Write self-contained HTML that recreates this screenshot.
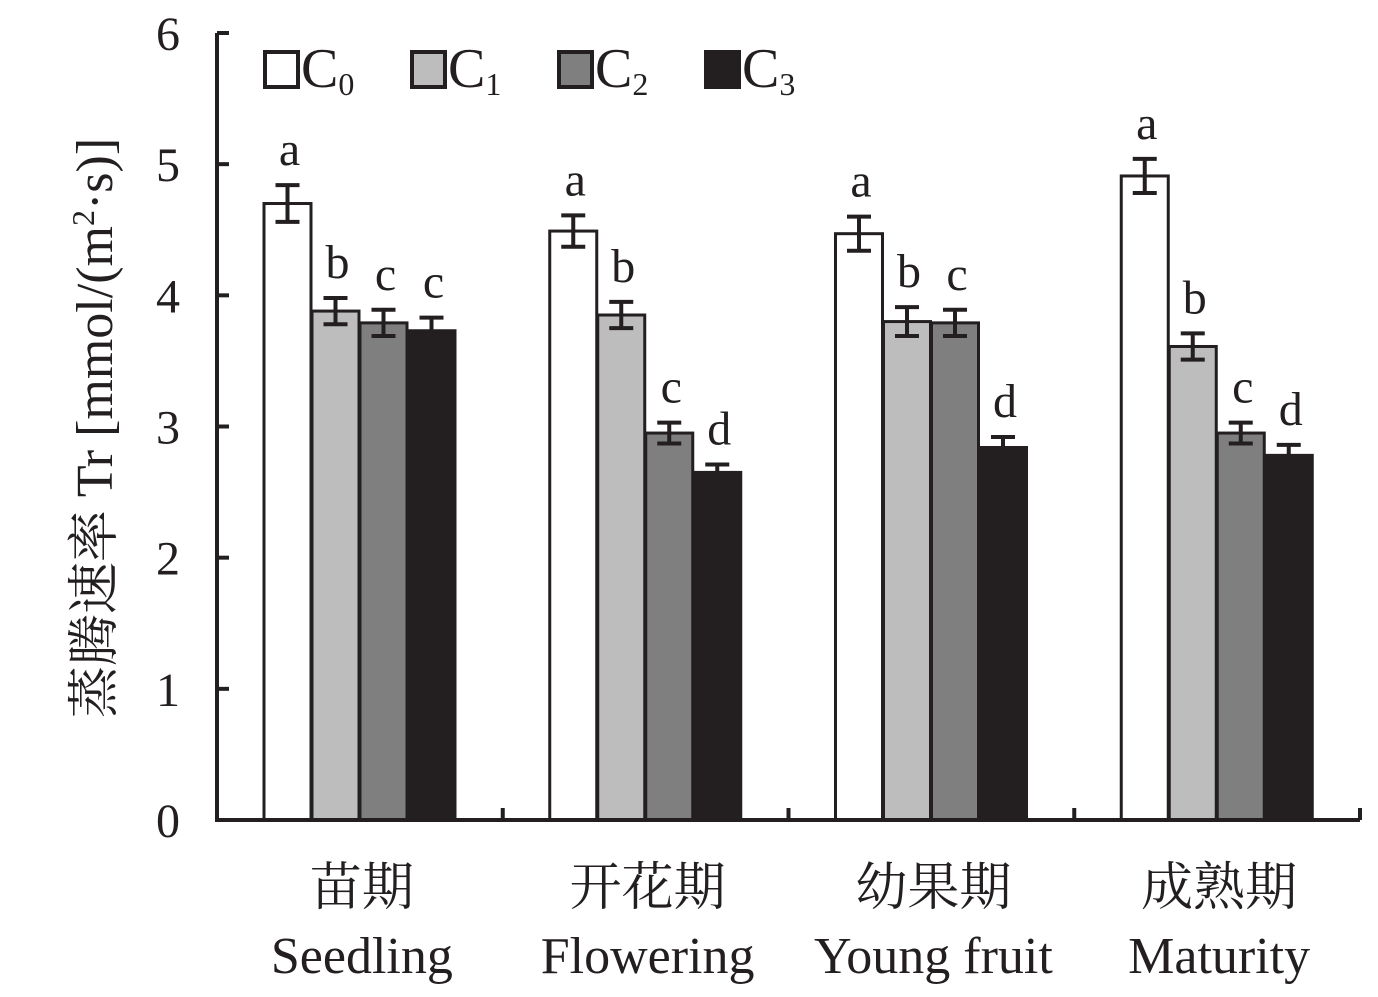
<!DOCTYPE html>
<html><head><meta charset="utf-8"><style>
body{margin:0;background:#fff}
svg text{font-family:"Liberation Serif","Noto Serif CJK SC",serif;fill:#231f20}
</style></head><body>
<svg id="chart" width="1378" height="992" xmlns="http://www.w3.org/2000/svg">
<g id="bars"></g>
<g id="axes"></g>
<g id="legend"></g>
<text transform="translate(112,428) rotate(-90)" text-anchor="middle" font-size="52">蒸腾速率 Tr [mmol/(m<tspan font-size="32" dy="-18">2</tspan><tspan dy="18">·s)]</tspan></text>
</svg>
<script>
const categoriesCN=["苗期","开花期","幼果期","成熟期"];
const categoriesEN=["Seedling","Flowering","Young fruit","Maturity"];
const seriesNames=["0","1","2","3"];
const C0=[4.70,4.49,4.47,4.91];
const C1=[3.88,3.85,3.80,3.61];
const C2=[3.79,2.95,3.79,2.95];
const C3=[3.73,2.65,2.84,2.78];
const E0=[0.14,0.12,0.13,0.13];
const E1=[0.10,0.10,0.11,0.10];
const E2=[0.10,0.08,0.10,0.08];
const E3=[0.10,0.06,0.08,0.08];
const L0=["a","a","a","a"];
const L1=["b","b","b","b"];
const L2=["c","c","c","c"];
const L3=["c","d","d","d"];
const yTicks=[0,1,2,3,4,5,6];
const NS="http://www.w3.org/2000/svg";
const X0=217,X1=1360,Y0=820,YT=33;
const y=v=>Y0-(v/6)*(Y0-YT);
const gw=(X1-X0)/4;
const bw=47;
const fills=["#ffffff","#bdbdbd","#7f7f7f","#231f20"];
const vals=[C0,C1,C2,C3],errs=[E0,E1,E2,E3],lets=[L0,L1,L2,L3];
function mk(t,a,p){const e=document.createElementNS(NS,t);for(const k in a)e.setAttribute(k,a[k]);p.appendChild(e);return e;}
const bars=document.getElementById('bars'),axes=document.getElementById('axes'),leg=document.getElementById('legend');
for(let g=0;g<4;g++){
 for(let s=0;s<4;s++){
  const v=vals[s][g],e=errs[s][g];
  const x=X0+gw*g+47+s*48;
  const r=mk('rect',{x:x,y:y(v),width:bw,height:Y0-y(v),fill:fills[s],stroke:'#231f20','stroke-width':3},bars);
  
  
  const cx=x+bw/2;
  const eb=mk('path',{d:`M${cx},${y(v+e)}V${y(v-e)}M${cx-12},${y(v+e)}H${cx+12}M${cx-12},${y(v-e)}H${cx+12}`,stroke:'#231f20','stroke-width':4,fill:'none'},bars);
  
  
  const t=mk('text',{x:cx+2,y:y(v+e)-20,'text-anchor':'middle','font-size':48},bars);
  t.textContent=lets[s][g];
  
  
 }
 const c=X0+gw*g+gw/2+2;
 const t1=mk('text',{x:c,y:905,'text-anchor':'middle','font-size':52},axes);
 t1.textContent=categoriesCN[g];
 
 
 const t2=mk('text',{x:c,y:973,'text-anchor':'middle','font-size':52},axes);
 t2.textContent=categoriesEN[g];
 
 
}
const ax=mk('path',{d:`M${X0},${YT}V${Y0}H${X1}`,stroke:'#231f20','stroke-width':4,fill:'none'},axes);


for(const v of yTicks){
 const tk=mk('path',{d:`M${X0},${y(v)}H${X0+12}`,stroke:'#231f20','stroke-width':4},axes);
 
 
 const t=mk('text',{x:180,y:y(v)+17,'text-anchor':'end','font-size':48},axes);
 t.textContent=v;
 
 
}
for(let g=1;g<=4;g++){
 const xx=X0+gw*g;
 const tk=mk('path',{d:`M${xx},${Y0}V${Y0-12}`,stroke:'#231f20','stroke-width':4},axes);
 
 
}
for(let s=0;s<4;s++){
 const lx=265+s*147;
 const r=mk('rect',{x:lx,y:52,width:33,height:35,fill:fills[s],stroke:'#231f20','stroke-width':4},leg);
 
 
 const t=mk('text',{x:lx+36,y:87,'font-size':56},leg);
 t.innerHTML='C<tspan font-size="32" dy="8">'+seriesNames[s]+'</tspan>';
 
 
}
</script>
</body></html>
